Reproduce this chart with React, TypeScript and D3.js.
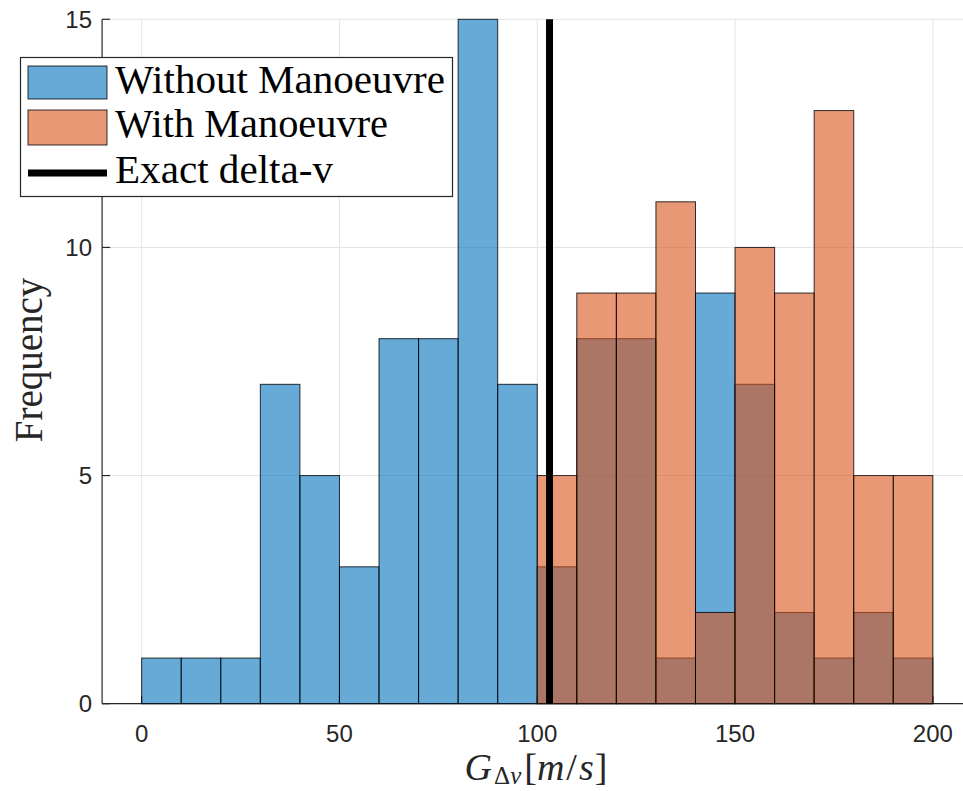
import React from 'react'
import * as d3 from 'd3'

// histogram bins (left edges, width 10 m/s)
const binStarts = [0, 10, 20, 30, 40, 50, 60, 70, 80, 90, 100, 110, 120, 130, 140, 150, 160, 170, 180, 190]
const binWidth = 10
const withoutCounts = [1, 1, 1, 7, 5, 3, 8, 8, 15, 7, 3, 8, 8, 1, 9, 7, 2, 1, 2, 1]
const withCounts = [0, 0, 0, 0, 0, 0, 0, 0, 0, 0, 5, 9, 9, 11, 2, 10, 9, 13, 5, 5]
const exactDeltaV = 103.1

const xTicks = [0, 50, 100, 150, 200]
const yTicks = [0, 5, 10, 15]

const legendItems = ['Without Manoeuvre', 'With Manoeuvre', 'Exact delta-v']

const blue = 'rgb(0,114,189)'
const orange = 'rgb(217,83,25)'
const axisColor = '#262626'
const serif = '"Liberation Serif", "DejaVu Serif", serif'
const sans = '"Liberation Sans", Arial, sans-serif'

export default function App() {
  const width = 963
  const height = 791

  const x = d3.scaleLinear().domain([-10, 210]).range([102.1, 972.4])
  const y = d3.scaleLinear().domain([0, 15]).range([703.7, 19.3])

  const left = x(-10)
  const bottom = y(0)
  const top = y(15)

  const bars = (counts, color) =>
    binStarts.map((b, i) =>
      counts[i] > 0 ? (
        <rect
          key={color + i}
          x={x(b)}
          y={y(counts[i])}
          width={x(b + binWidth) - x(b)}
          height={y(0) - y(counts[i])}
          fill={color}
          fillOpacity={0.6}
          stroke="#000"
          strokeWidth={1}
          strokeOpacity={0.8}
        />
      ) : null
    )

  return (
    <svg
      width={width}
      height={height}
      style={{ position: 'absolute', left: 0, top: 0, background: '#fff' }}
    >
      {/* grid */}
      <g stroke="#e3e3e3" strokeWidth={1}>
        {xTicks.map(t => (
          <line key={'gx' + t} x1={x(t)} x2={x(t)} y1={top} y2={bottom} />
        ))}
        {yTicks.map(t => (
          <line key={'gy' + t} x1={left} x2={width} y1={y(t)} y2={y(t)} />
        ))}
      </g>

      {/* axes */}
      <g stroke={axisColor} strokeWidth={1.2}>
        <line x1={left} x2={left} y1={top} y2={bottom} />
        <line x1={left} x2={width} y1={bottom} y2={bottom} />
        {yTicks.map(t => (
          <line key={'ty' + t} x1={left} x2={left + 8} y1={y(t)} y2={y(t)} />
        ))}
        {xTicks.map(t => (
          <line key={'tx' + t} x1={x(t)} x2={x(t)} y1={bottom} y2={bottom - 8} />
        ))}
      </g>

      <g fontFamily={sans} fontSize={24} fill={axisColor}>
        {xTicks.map(t => (
          <text key={'lx' + t} x={x(t)} y={742} textAnchor="middle">
            {t}
          </text>
        ))}
        {yTicks.map(t => (
          <text key={'ly' + t} x={92} y={y(t) + 8.5} textAnchor="end">
            {t}
          </text>
        ))}
      </g>

      {/* bars */}
      <g>{bars(withoutCounts, blue)}</g>
      <g>{bars(withCounts, orange)}</g>

      {/* exact delta-v */}
      <line x1={x(exactDeltaV)} x2={x(exactDeltaV)} y1={top} y2={bottom} stroke="#000" strokeWidth={7} />

      {/* axis labels */}
      <text
        transform={`translate(42,360) rotate(-90)`}
        textAnchor="middle"
        fontFamily={serif}
        fontSize={39}
        fill={axisColor}
      >
        Frequency
      </text>
      <text x={536} y={780} textAnchor="middle" fontFamily={serif} fontSize={38} fill={axisColor}>
        <tspan fontStyle="italic">G</tspan>
        <tspan fontSize={25} dy={4} dx={2}>Δ</tspan>
        <tspan fontSize={25} fontStyle="italic">v</tspan>
        <tspan dy={-4} dx={3}>[</tspan>
        <tspan fontStyle="italic">m</tspan>
        <tspan dx={2}>/</tspan>
        <tspan fontStyle="italic" dx={2}>s</tspan>
        <tspan dx={1}>]</tspan>
      </text>

      {/* legend */}
      <g>
        <rect x={20.5} y={57.5} width={432} height={139} fill="#fff" stroke={axisColor} strokeWidth={1.2} />
        <rect x={28} y={66} width={79} height={33} fill={blue} fillOpacity={0.6} stroke="#000" strokeOpacity={0.8} />
        <rect x={28} y={110} width={79} height={35} fill={orange} fillOpacity={0.6} stroke="#000" strokeOpacity={0.8} />
        <line x1={28} x2={107} y1={173} y2={173} stroke="#000" strokeWidth={7} />
        <g fontFamily={serif} fontSize={40} fill="#000">
          <text x={115} y={93} textLength={330} lengthAdjust="spacingAndGlyphs">{legendItems[0]}</text>
          <text x={115} y={137} textLength={273} lengthAdjust="spacingAndGlyphs">{legendItems[1]}</text>
          <text x={115} y={183} textLength={218} lengthAdjust="spacingAndGlyphs">{legendItems[2]}</text>
        </g>
      </g>
    </svg>
  )
}
